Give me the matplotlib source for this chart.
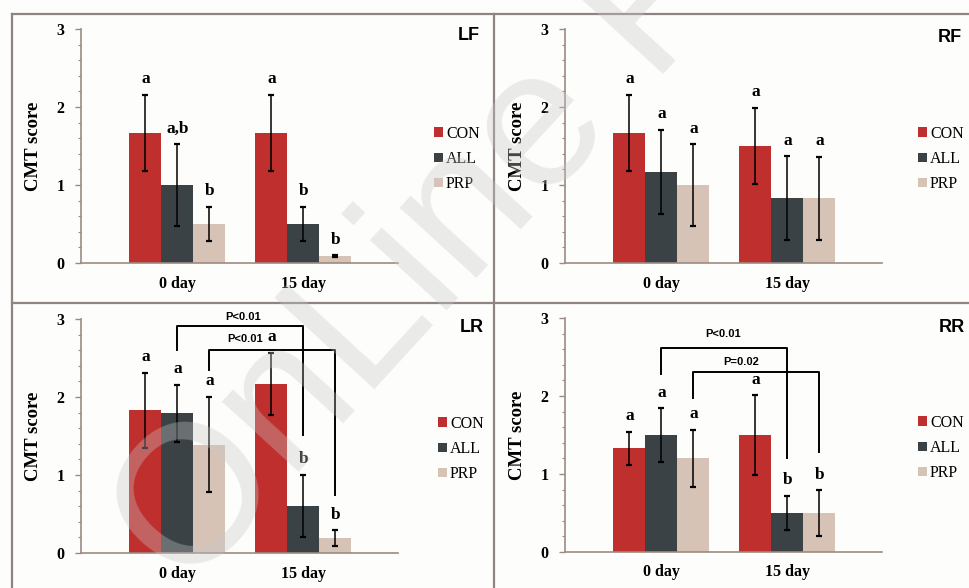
import numpy as np
import matplotlib
matplotlib.use("Agg")
import matplotlib.pyplot as plt
from matplotlib.lines import Line2D

# ---------------- data ----------------
days = ["0 day", "15 day"]
groups = ["CON", "ALL", "PRP"]
colors = ["#BF2F2D", "#3A4246", "#D6C3B6"]

# means [group][day]
lf_means = [[1.67, 1.67], [1.00, 0.50], [0.50, 0.09]]
lf_errs = [[0.49, 0.49], [0.52, 0.22], [0.22, 0.01]]
lf_letters = [["a", "a"], ["a,b", "b"], ["b", "b"]]

rf_means = [[1.67, 1.50], [1.17, 0.83], [1.00, 0.83]]
rf_errs = [[0.49, 0.49], [0.54, 0.54], [0.52, 0.53]]
rf_letters = [["a", "a"], ["a", "a"], ["a", "a"]]

lr_means = [[1.83, 2.17], [1.79, 0.60], [1.39, 0.19]]
lr_errs = [[0.48, 0.40], [0.37, 0.40], [0.61, 0.10]]
lr_letters = [["a", "a"], ["a", "b"], ["a", "b"]]

rr_means = [[1.33, 1.50], [1.50, 0.50], [1.20, 0.50]]
rr_errs = [[0.21, 0.51], [0.34, 0.22], [0.37, 0.29]]
rr_letters = [["a", "a"], ["a", "b"], ["a", "b"]]

# brackets: (label, group index, y start left, y top, y end right, label x, label y)
lr_brackets = [("P<0.01", 1, 2.60, 2.91, 1.51, 0.52, 3.03),
               ("P<0.01", 2, 2.34, 2.60, 0.74, 0.54, 2.75)]
rr_brackets = [("P<0.01", 1, 2.28, 2.62, 1.20, 0.49, 2.79),
               ("P=0.02", 2, 1.98, 2.31, 1.28, 0.635, 2.44)]

panels = [
    ("LF", lf_means, lf_errs, lf_letters, []),
    ("RF", rf_means, rf_errs, rf_letters, []),
    ("LR", lr_means, lr_errs, lr_letters, lr_brackets),
    ("RR", rr_means, rr_errs, rr_letters, rr_brackets),
]

# ---------------- layout ----------------
W, H = 969, 588
fig = plt.figure(figsize=(W / 100, H / 100), dpi=100, facecolor="#FDFDFB")

serif = "Liberation Serif"
sans = "Liberation Sans"
axis_col = "#9C8B82"

# axes pixel boxes: (left x, right x, y of value 3, y of value 0)
boxes = [(81, 398, 29, 263), (565, 882, 29, 263),
         (81, 398, 319, 553), (565, 882, 318, 552)]
legend_pos = [(426, 159), (910, 159), (430, 449), (910, 448)]
title_pos = [(480, 36), (962, 38), (484, 327), (965, 327)]

bw = 0.254
x = np.arange(len(days))

for (name, means, errs, letters, brackets), (l, r, t, b), lp, tp in zip(
        panels, boxes, legend_pos, title_pos):
    ax = fig.add_axes([l / W, 1 - b / H, (r - l) / W, (b - t) / H])
    ax.set_facecolor("none")
    for gi, g in enumerate(groups):
        xs = x + (gi - 1) * bw
        ax.bar(xs, means[gi], width=bw, color=colors[gi], label=g, zorder=2)
        ax.errorbar(xs, means[gi], yerr=errs[gi], fmt="none", ecolor="black",
                    elinewidth=1.1, capsize=2.5, capthick=1.6, zorder=3)
        for di in range(len(days)):
            top = means[gi][di] + errs[gi][di]
            ax.text(xs[di], top + 0.2, letters[gi][di], ha="center", va="center",
                    fontfamily=serif, fontweight="bold", fontsize=12.5, zorder=4)
    for lab, gi, y0, ytop, y1, lx, ly in brackets:
        x0 = x[0] + (gi - 1) * bw
        x1 = x[1] + (gi - 1) * bw
        ax.plot([x0, x0, x1, x1], [y0, ytop, ytop, y1], color="black",
                lw=1.4, solid_joinstyle="round", clip_on=False, zorder=5)
        ax.text(lx, ly, lab, ha="center", va="center", fontfamily=sans,
                fontweight="bold", fontsize=8, clip_on=False, zorder=5)

    ax.set_xlim(-0.765, 1.75)
    ax.set_ylim(0, 3)
    ax.set_xticks(x)
    ax.set_xticklabels(days, fontfamily=serif, fontweight="bold", fontsize=11.5)
    ax.tick_params(axis="x", length=0, pad=9)
    ax.set_yticks([0, 1, 2, 3])
    ax.set_yticklabels(["0", "1", "2", "3"], fontfamily=serif, fontweight="bold",
                       fontsize=11.5)
    ax.set_yticks(np.arange(0, 3.01, 0.2), minor=True)
    ax.tick_params(axis="y", which="major", length=4, width=1, color=axis_col, pad=8)
    ax.tick_params(axis="y", which="minor", length=2.5, width=0.8, color=axis_col)
    for s in ["top", "right"]:
        ax.spines[s].set_visible(False)
    for s in ["left", "bottom"]:
        ax.spines[s].set_color(axis_col)
        ax.spines[s].set_linewidth(1.2)
    ax.set_ylabel("CMT score", fontfamily=serif, fontweight="bold", fontsize=13.5,
                  labelpad=10)

    ax.legend(loc="center left", bbox_to_anchor=(lp[0] / W, 1 - lp[1] / H),
              bbox_transform=fig.transFigure, frameon=False,
              handlelength=0.55, handleheight=0.55, handletextpad=0.2,
              labelspacing=0.57, borderpad=0,
              prop={"family": serif, "size": 11.5})
    fig.text(tp[0] / W, 1 - tp[1] / H, name, ha="right", va="center",
             fontfamily=sans, fontweight="bold", fontsize=13)

# panel frame lines
lc = "#8E8580"
for xs_, ys_ in [((12, 969), (14, 14)), ((12, 12), (14, 588)),
                 ((494, 494), (14, 588)), ((12, 969), (303, 303))]:
    fig.add_artist(Line2D([v / W for v in xs_], [1 - v / H for v in ys_],
                          color=lc, lw=1.6, transform=fig.transFigure))

# watermark
fig.text(187 / W, 1 - 595 / H, "OnLine First", rotation=47.5, rotation_mode="anchor",
         ha="left", va="baseline", fontfamily=sans, fontsize=142,
         color="#c8c8c8", alpha=0.35, zorder=10)

fig.savefig("out.png", dpi=100, facecolor=fig.get_facecolor())
